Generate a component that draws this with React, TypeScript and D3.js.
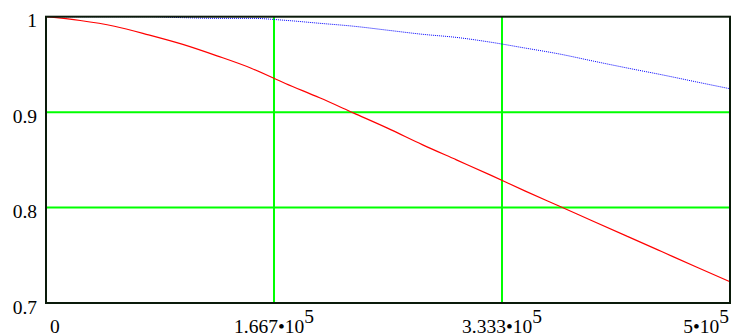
import React, { useEffect, useRef } from "react";
import * as d3 from "d3";

const xValues = [
  0, 25000, 50000, 75000, 100000, 125000, 150000, 175000, 200000, 225000, 250000,
  275000, 300000, 325000, 350000, 375000, 400000, 425000, 450000, 475000, 500000,
];

const redSeries = [
  1.0, 0.996, 0.99, 0.981, 0.971, 0.959, 0.946, 0.93, 0.915, 0.899, 0.883,
  0.866, 0.85, 0.834, 0.8175, 0.8016, 0.7857, 0.7698, 0.7539, 0.738, 0.7222,
];

const blueSeries = [
  1.0, 1.0, 1.0, 1.0, 0.999, 0.9983, 0.9983, 0.9962, 0.9931, 0.99, 0.9858,
  0.9816, 0.9783, 0.9733, 0.9672, 0.961, 0.9535, 0.9462, 0.9392, 0.9318, 0.9245,
];

const xTicks = [0, 166666.7, 333333.3, 500000];
const xTickMantissa = ["0", "1.667\u202210", "3.333\u202210", "5\u202210"];
const xTickExponent = ["", "5", "5", "5"];
const yTicks = [0.7, 0.8, 0.9, 1];
const yTickLabels = ["0.7", "0.8", "0.9", "1"];

const W = 740;
const H = 336;

const App = () => {
  const svgRef = useRef<SVGSVGElement>(null);

  useEffect(() => {
    const svg = d3.select(svgRef.current);
    svg.selectAll("*").remove();

    const left = 46;
    const right = 730;
    const top = 16.7;
    const bottom = 303;

    const x = d3.scaleLinear().domain([0, 500000]).range([left, right]);
    const y = d3.scaleLinear().domain([0.7, 1]).range([bottom, top]);

    const font = "'Liberation Serif', 'Times New Roman', serif";
    const fontSize = "19.5px";

    // green grid lines (inner ticks only, the frame covers the edges)
    svg
      .append("g")
      .selectAll("line")
      .data(xTicks.slice(1, -1))
      .enter()
      .append("line")
      .attr("x1", (d) => x(d))
      .attr("x2", (d) => x(d))
      .attr("y1", top)
      .attr("y2", bottom)
      .attr("stroke", "#00ff00")
      .attr("stroke-width", 2);

    svg
      .append("g")
      .selectAll("line")
      .data(yTicks.slice(1, -1))
      .enter()
      .append("line")
      .attr("x1", left)
      .attr("x2", right)
      .attr("y1", (d) => y(d))
      .attr("y2", (d) => y(d))
      .attr("stroke", "#00ff00")
      .attr("stroke-width", 2);

    const line = d3
      .line<number>()
      .x((_, i) => x(xValues[i]))
      .y((d) => y(d))
      .curve(d3.curveMonotoneX);

    svg
      .append("path")
      .datum(blueSeries)
      .attr("fill", "none")
      .attr("stroke", "#0000ff")
      .attr("stroke-width", 1)
      .attr("stroke-dasharray", "1,1")
      .attr("d", line);

    svg
      .append("path")
      .datum(redSeries)
      .attr("fill", "none")
      .attr("stroke", "#ff0000")
      .attr("stroke-width", 1.2)
      .attr("d", line);

    // frame
    svg
      .append("rect")
      .attr("x", left)
      .attr("y", top)
      .attr("width", right - left)
      .attr("height", bottom - top)
      .attr("fill", "none")
      .attr("stroke", "#0a1a0a")
      .attr("stroke-width", 2);

    // y labels
    svg
      .append("g")
      .selectAll("text")
      .data(yTicks)
      .enter()
      .append("text")
      .attr("x", 37)
      .attr("y", (d) => y(d) + 10.7)
      .attr("text-anchor", "end")
      .style("font-family", font)
      .style("font-size", fontSize)
      .text((_, i) => yTickLabels[i]);

    // x labels with superscript exponent
    xTicks.forEach((t, i) => {
      const anchor = i === 0 ? "start" : i === xTicks.length - 1 ? "end" : "middle";
      const tx = i === 0 ? x(t) + 4 : i === xTicks.length - 1 ? x(t) - 1 : x(t);
      const text = svg
        .append("text")
        .attr("x", tx)
        .attr("y", 332.5)
        .attr("text-anchor", anchor)
        .style("font-family", font)
        .style("font-size", fontSize);
      text.append("tspan").text(xTickMantissa[i]);
      if (xTickExponent[i]) {
        text
          .append("tspan")
          .attr("dy", -10)
          .text(xTickExponent[i]);
      }
    });
  }, []);

  return (
    <div style={{ position: "fixed", left: 0, top: 0, background: "#fff" }}>
      <svg ref={svgRef} width={W} height={H} style={{ display: "block" }}></svg>
    </div>
  );
};

export default App;
